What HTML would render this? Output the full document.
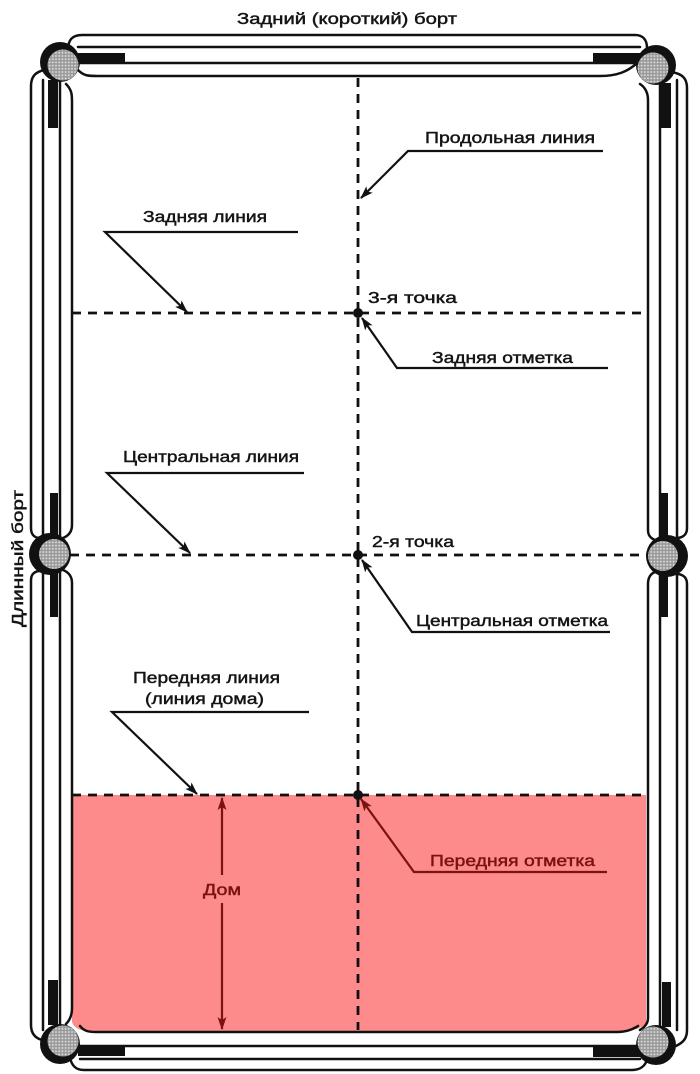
<!DOCTYPE html>
<html>
<head>
<meta charset="utf-8">
<style>
  html,body{margin:0;padding:0;background:#fff;}
  svg{display:block;}
  text{font-family:"Liberation Sans","DejaVu Sans",sans-serif;font-size:16px;fill:#141414;stroke:#141414;stroke-width:0.45;}
  text.red{fill:#7a1212;stroke:#7a1212;}
</style>
</head>
<body>
<svg width="700" height="1074" viewBox="0 0 700 1074" xmlns="http://www.w3.org/2000/svg">
  <defs>
    <pattern id="dots" width="3.2" height="3.2" patternUnits="userSpaceOnUse">
      <rect width="3.2" height="3.2" fill="#9a9a9a"/>
      <circle cx="1.6" cy="1.6" r="0.9" fill="#e0e0e0"/>
    </pattern>
    <marker id="ab" markerUnits="userSpaceOnUse" markerWidth="13" markerHeight="9" refX="12" refY="4.5" orient="auto">
      <path d="M0,0 L13,4.5 L0,9 L3,4.5 z" fill="#111"/>
    </marker>
    <marker id="ar" markerUnits="userSpaceOnUse" markerWidth="13" markerHeight="9" refX="12" refY="4.5" orient="auto">
      <path d="M0,0 L13,4.5 L0,9 L3,4.5 z" fill="#7a1212"/>
    </marker>
  </defs>

  <rect width="700" height="1074" fill="#fff"/>

  <!-- pink house area -->
  <path d="M72,795 L646,795 L646,1024 C640,1029 632,1031 620,1031 L90,1031 C80,1031 74,1028 72,1022 Z" fill="#fd8b8b"/>

  <!-- rails -->
  <g fill="none" stroke="#111" stroke-width="2.5" stroke-linecap="round">
    <!-- top rail -->
    <path d="M68,50 C68,40 72,35 82,35 L635,35 C643,35 647,40 647,48"/>
    <path d="M78,47 L640,47"/>
    <path d="M80,63 L640,63"/>
    <path d="M78,70 C84,76 88,76 98,76 L600,76 C618,76 628,71 636,64"/>
    <!-- bottom rail -->
    <path d="M80,1026 C84,1031 88,1032 96,1032 L618,1032 C626,1032 632,1030 638,1026"/>
    <path d="M80,1046 L640,1046"/>
    <path d="M80,1059 L640,1059"/>
    <path d="M70,1058 C72,1066 76,1070 84,1070 L632,1070 C640,1070 645,1066 647,1060"/>
    <!-- left upper -->
    <path d="M44,70 C36,72 31,76 31,86 L31,528 C31,535 35,538 40,538"/>
    <path d="M43,80 L43,537"/>
    <path d="M60,82 L60,537"/>
    <path d="M66,84 C72,90 72,95 72,102 L72,525 C72,532 68,536 63,538"/>
    <!-- left lower -->
    <path d="M40,571 C35,571 31,574 31,580 L31,1025 C31,1033 35,1038 42,1040"/>
    <path d="M43,571 L43,1030"/>
    <path d="M60,571 L60,1024"/>
    <path d="M63,570 C68,572 72,576 72,583 L72,1008 C72,1015 70,1020 66,1024"/>
    <!-- right upper -->
    <path d="M640,84 C646,88 648,94 648,100 L648,530 C648,535 650,538 655,540"/>
    <path d="M660,84 L660,540"/>
    <path d="M677,80 L677,537"/>
    <path d="M672,72 C682,74 687,78 687,88 L687,528 C687,534 684,537 678,538"/>
    <!-- right lower -->
    <path d="M655,572 C650,574 648,578 648,584 L648,1018 C648,1023 645,1027 640,1030"/>
    <path d="M660,572 L660,1028"/>
    <path d="M677,574 L677,1030"/>
    <path d="M678,574 C684,575 687,578 687,584 L687,1030 C687,1038 684,1042 676,1046"/>
  </g>

  <!-- black cushion bars -->
  <g fill="#111">
    <rect x="78" y="53" width="47" height="10"/>
    <rect x="593" y="53" width="47" height="10"/>
    <rect x="48" y="80" width="10" height="48"/>
    <rect x="660" y="83" width="11" height="45"/>
    <rect x="50" y="493" width="8" height="45"/>
    <rect x="50" y="572" width="8" height="45"/>
    <rect x="659" y="493" width="9" height="47"/>
    <rect x="659" y="574" width="9" height="43"/>
    <rect x="48" y="980" width="10" height="45"/>
    <rect x="662" y="982" width="9" height="45"/>
    <rect x="78" y="1046" width="47" height="10"/>
    <rect x="593" y="1047" width="47" height="10"/>
  </g>

  <!-- pockets -->
  <g>
    <circle cx="60" cy="62" r="20" fill="#111"/>
    <circle cx="63" cy="65" r="15.5" fill="url(#dots)"/>
    <circle cx="656" cy="65" r="20" fill="#111"/>
    <circle cx="653" cy="68" r="15.5" fill="url(#dots)"/>
    <circle cx="50" cy="554" r="21" fill="#111"/>
    <circle cx="54" cy="554" r="15" fill="url(#dots)"/>
    <circle cx="667" cy="556" r="21" fill="#111"/>
    <circle cx="663" cy="556" r="15" fill="url(#dots)"/>
    <circle cx="60" cy="1044" r="20" fill="#111"/>
    <circle cx="63" cy="1041" r="15.5" fill="url(#dots)"/>
    <circle cx="656" cy="1045" r="20" fill="#111"/>
    <circle cx="653" cy="1042" r="15.5" fill="url(#dots)"/>
  </g>

  <!-- dashed lines -->
  <g stroke="#111" stroke-width="2.8" stroke-dasharray="9 7" fill="none">
    <path d="M358,78 L358,1030"/>
    <path d="M72,313 L646,313"/>
    <path d="M70,555 L648,555"/>
    <path d="M72,795 L646,795"/>
  </g>

  <!-- marks -->
  <circle cx="358" cy="313" r="5" fill="#111"/>
  <circle cx="358" cy="555" r="5" fill="#111"/>
  <circle cx="358" cy="795" r="5" fill="#111"/>

  <!-- leaders -->
  <g fill="none" stroke="#111" stroke-width="2.2">
    <polyline points="603,151 408,151 361,198" marker-end="url(#ab)"/>
    <polyline points="298,232 105,232 187,312" marker-end="url(#ab)"/>
    <polyline points="608,368 397,368 362,318" marker-end="url(#ab)"/>
    <polyline points="304,473 107,473 190,553" marker-end="url(#ab)"/>
    <polyline points="610,632 412,632 362,560" marker-end="url(#ab)"/>
    <polyline points="309,712 112,712 197,794" marker-end="url(#ab)"/>
  </g>
  <polyline points="607,872 414,872 361,799" fill="none" stroke="#7a1212" stroke-width="2.2" marker-end="url(#ar)"/>

  <!-- house arrow -->
  <g stroke="#7a1212" stroke-width="2.2" fill="none">
    <line x1="222" y1="875" x2="222" y2="798" marker-end="url(#ar)"/>
    <line x1="222" y1="903" x2="222" y2="1029" marker-end="url(#ar)"/>
  </g>

  <!-- labels -->
  <text x="237" y="24" font-size="17" textLength="220" lengthAdjust="spacingAndGlyphs">Задний (короткий) борт</text>
  <text x="425" y="143" textLength="170" lengthAdjust="spacingAndGlyphs">Продольная линия</text>
  <text x="143" y="222" textLength="124" lengthAdjust="spacingAndGlyphs">Задняя линия</text>
  <text x="368" y="303" textLength="89" lengthAdjust="spacingAndGlyphs">3-я точка</text>
  <text x="432" y="363" textLength="141" lengthAdjust="spacingAndGlyphs">Задняя отметка</text>
  <text x="123" y="462" textLength="176" lengthAdjust="spacingAndGlyphs">Центральная линия</text>
  <text x="372" y="547" textLength="82" lengthAdjust="spacingAndGlyphs">2-я точка</text>
  <text x="416" y="626" textLength="192" lengthAdjust="spacingAndGlyphs">Центральная отметка</text>
  <text x="133" y="683" textLength="147" lengthAdjust="spacingAndGlyphs">Передняя линия</text>
  <text x="145" y="704" textLength="119" lengthAdjust="spacingAndGlyphs">(линия дома)</text>
  <text class="red" x="430" y="866" textLength="165" lengthAdjust="spacingAndGlyphs">Передняя отметка</text>
  <text class="red" x="203" y="895" textLength="38" lengthAdjust="spacingAndGlyphs">Дом</text>
  <text transform="translate(23,627) rotate(-90)" x="0" y="0" font-size="17" textLength="137" lengthAdjust="spacingAndGlyphs">Длинный борт</text>
</svg>
</body>
</html>
